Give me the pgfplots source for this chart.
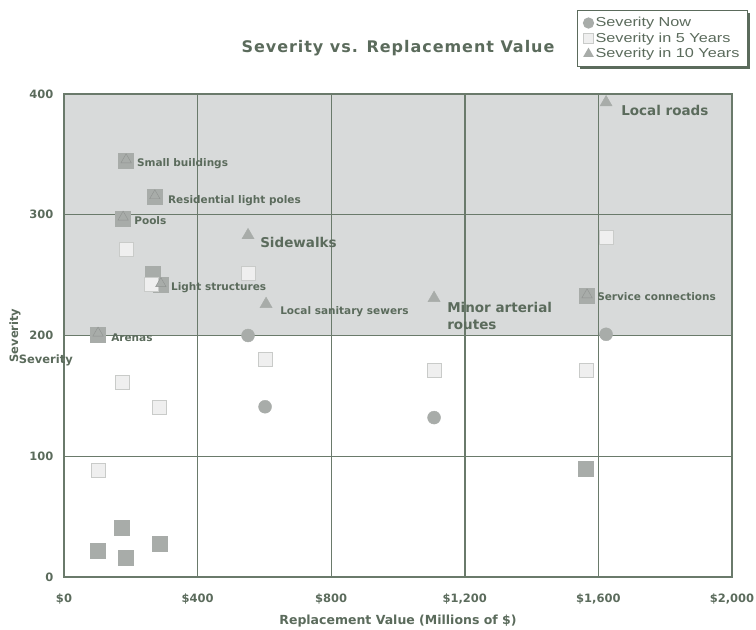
\documentclass[border=0pt]{standalone}
\usepackage{pgfplots}
\pgfplotsset{compat=1.18}
\usepackage{fontspec}
\setmainfont{DejaVu Sans}
\newfontfamily\legfont{Liberation Sans}[FakeStretch=1.25]
\usetikzlibrary{shadows}
\definecolor{txt}{HTML}{5B6B5C}
\definecolor{gridc}{HTML}{6A7A6B}
\definecolor{mk}{HTML}{A8ACA9}
\definecolor{lite}{HTML}{EFEFEF}
\definecolor{liteb}{HTML}{C9CBC9}
\definecolor{band}{HTML}{D8DADA}
\begin{document}
\begin{tikzpicture}[x=1pt,y=1pt]
\begin{axis}[
    set layers, clip=false,
    at={(0,0)}, anchor=south west,
    scale only axis, width=668pt, height=483pt,
    xmin=0, xmax=2000, ymin=0, ymax=400,
    xtick={0,400,800,1200,1600,2000},
    xticklabels={\$0,\$400,\$800,{\$1,200},{\$1,600},{\$2,000}},
    ytick={0,100,200,300,400},
    major tick length=0pt,
    grid=major,
    grid style={gridc, line width=1.4pt},
    axis line style={gridc, line width=2.2pt},
    /pgf/number format/assume math mode=true,
    tick label style={font=\bfseries\fontsize{11.5}{12}\selectfont, text=txt},
    xticklabel style={yshift=-13pt},
    yticklabel style={xshift=-7pt},
    title={\addfontfeatures{LetterSpace=6}Severity vs. Replacement Value},
    title style={at={(axis description cs:0.5,1.083)}, anchor=center,
        font=\bfseries\fontsize{16}{18}\selectfont, text=txt},
    xlabel={Replacement Value (Millions of \$)},
    xlabel style={at={(axis description cs:0.5,-0.091)}, anchor=center,
        font=\bfseries\fontsize{12.5}{14}\selectfont, text=txt},
    ylabel={Severity},
    ylabel style={at={(axis description cs:-0.0734,0.50)}, anchor=center,
        font=\bfseries\fontsize{11.5}{12}\selectfont, text=txt},
    legend style={at={(axis description cs:1.024,1.174)}, anchor=north east,
        draw=txt, line width=1.2pt, fill=white,
        drop shadow={shadow xshift=2.5pt, shadow yshift=-2.5pt, fill=txt, opacity=1},
        font=\legfont\fontsize{13}{12}\selectfont, text=txt,
        inner xsep=6pt, inner ysep=5pt, row sep=0.5pt,
        cells={anchor=west}},
    legend cell align=left,
    legend image code/.code={\draw[#1, mark size=5pt] plot coordinates {(0.35em,0)};},
]
% shaded band 200..400
\addplot[on layer=axis background, fill=band, draw=none, forget plot]
    coordinates {(0,200) (2000,200) (2000,400) (0,400)} \closedcycle;

% dark squares (not in legend)
\addplot[only marks, mark=square*, mark size=7.5pt, mark options={fill=mk, draw=mk}, forget plot]
    coordinates {
    (102,21.5) (174,40.6) (186,15.7) (287,27.3) (1563,90) (266,251)
    (186,344.5) (272,314.7) (177,297) (290,242) (102,201) (1566,232.7)
    };

% Severity Now
\addplot[only marks, mark=*, mark size=6.5pt, mark options={fill=mk, draw=mk}]
    coordinates {
    (551,200) (602,141) (1108,132) (1623,201)
    };
\addlegendentry{Severity Now}

% Severity in 5 Years
\addplot[only marks, mark=square*, mark size=7pt, mark options={fill=lite, draw=liteb, line width=1pt}]
    coordinates {
    (186,271) (551,251) (263,242) (1623,281) (602,180)
    (174,161) (287,140) (1108,171) (1563,171) (102,88)
    };
\addlegendentry{Severity in 5 Years}

% Severity in 10 Years
\addplot[only marks, mark=triangle*, mark size=7pt, mark options={fill=mk, draw=mk}]
    coordinates {
    (551,283) (605,226) (1108,231) (1623,393)
    };
\addlegendentry{Severity in 10 Years}

% triangles drawn inside the dark squares
\addplot[only marks, mark=triangle*, mark size=6pt, mark options={fill=mk, draw=mk!85!black, line width=0.4pt}, forget plot]
    coordinates {
    (186,345.5) (272,315.7) (177,298) (290,243) (102,202) (1566,233.7)
    };

% point labels
\begin{scope}[every node/.style={text=txt, anchor=west, inner sep=0pt}]
\node[font=\bfseries\fontsize{10.5}{12}\selectfont] at (axis cs:218,342) {Small buildings};
\node[font=\bfseries\fontsize{10.5}{12}\selectfont] at (axis cs:311,312) {Residential light poles};
\node[font=\bfseries\fontsize{10.5}{12}\selectfont] at (axis cs:210,295) {Pools};
\node[font=\bfseries\fontsize{10.5}{12}\selectfont] at (axis cs:320,240) {Light structures};
\node[font=\bfseries\fontsize{10.5}{12}\selectfont] at (axis cs:141,198) {Arenas};
\node[font=\bfseries\fontsize{10.5}{12}\selectfont] at (axis cs:647,220) {Local sanitary sewers};
\node[font=\bfseries\fontsize{10.5}{12}\selectfont] at (axis cs:1596,232) {Service connections};
\node[font=\bfseries\fontsize{13.5}{15}\selectfont] at (axis cs:587,277) {Sidewalks};
\node[font=\bfseries\fontsize{13.5}{16.5}\selectfont, align=left] at (axis cs:1147,216) {Minor arterial\\routes};
\node[font=\bfseries\fontsize{13.5}{15}\selectfont] at (axis cs:1668,386) {Local roads};
\node[font=\bfseries\fontsize{11.5}{12}\selectfont, anchor=east] at (axis description cs:0.0135,0.449) {Severity};
\end{scope}
\end{axis}
\pgfresetboundingbox
\path (-64pt,-53pt) rectangle (692pt,577pt);
\end{tikzpicture}
\end{document}
